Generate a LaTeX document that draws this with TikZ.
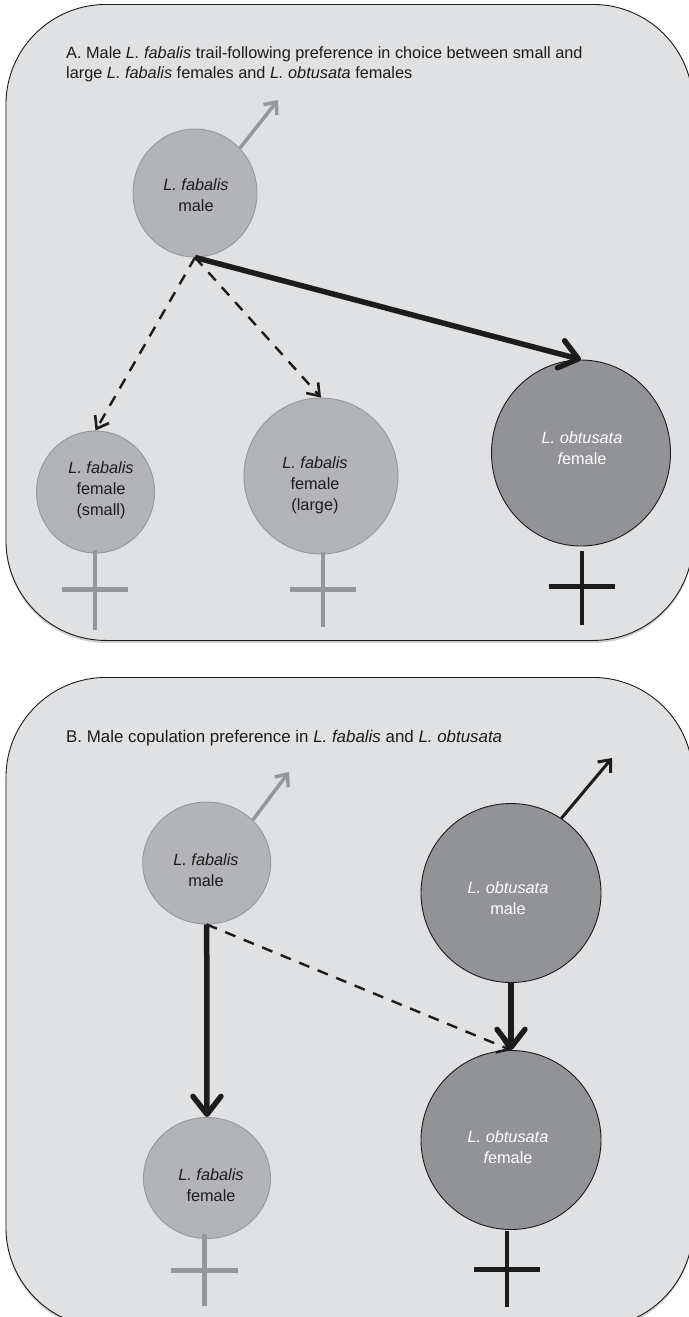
\documentclass[tikz,border=0pt]{standalone}
\usepackage{fontspec}
\setmainfont{Liberation Sans}
\usetikzlibrary{arrows.meta,shapes.geometric,shadows}
\definecolor{panelbg}{HTML}{E0E1E3}
\definecolor{lightfill}{HTML}{B3B4B7}
\definecolor{darkfill}{HTML}{929396}
\definecolor{lightline}{HTML}{969799}
\definecolor{darkline}{HTML}{1D1B1C}
\tikzset{
  panelbox/.style={draw=darkline,line width=0.9pt,fill=panelbg,rounded corners=100pt,rectangle,
     minimum width=687pt,anchor=north west,inner sep=0pt,
     drop shadow={shadow xshift=0pt,shadow yshift=-2.5pt,opacity=.3,fill=black!60}},
  lightcirc/.style={ellipse,draw=lightline,fill=lightfill,line width=0.9pt,inner sep=0pt},
  darkcirc/.style={ellipse,draw=darkline,fill=darkfill,line width=0.9pt,inner sep=0pt},
  lbl/.style={font=\fontsize{16.3pt}{21pt}\selectfont,text=darkline,align=center,inner sep=0pt},
  lblw/.style={font=\fontsize{16.3pt}{21pt}\selectfont,text=white,align=center,inner sep=0pt},
  head/.style={font=\fontsize{16.3pt}{20pt}\selectfont,text=darkline,align=left,anchor=north west,inner sep=0pt},
  headb/.style={font=\fontsize{16.9pt}{20pt}\selectfont,text=darkline,align=left,anchor=north west,inner sep=0pt},
  gray arrow/.style={draw=lightline,line width=3.5pt,-{Straight Barb[length=10pt,width=17pt,line width=3.4pt]}},
  black arrow/.style={draw=darkline,line width=3pt,-{Straight Barb[length=10pt,width=17pt,line width=3pt]}},
  dash arrow/.style={draw=darkline,line width=2.4pt,dash pattern=on 11pt off 9pt,-{Straight Barb[length=11pt,width=16pt,line width=2.6pt]}},
  thick arrow/.style={draw=darkline,line width=5.5pt,-{Straight Barb[round,length=18pt,width=28pt,line width=5.4pt]}},
  stem/.style={line width=4.5pt},
  bar/.style={line width=5pt},
}
\begin{document}
\begin{tikzpicture}[x=1pt,y=-1pt]
\useasboundingbox (0,0) rectangle (688,1317);
\fill[white] (0,0) rectangle (688,1317);
% panels
\node[panelbox,minimum height=636pt] (panelA) at (5.5,4) {};
\node[panelbox,minimum height=650pt] (panelB) at (5.5,677) {};
% panel headings
\node[head] (headA) at (66,46) {A. Male \textit{L. fabalis} trail-following preference in choice between small and\\large \textit{L. fabalis} females and \textit{L. obtusata} females};
\node[headb] (headB) at (66,730) {B. Male copulation preference in \textit{L. fabalis} and \textit{L. obtusata}};
% organisms, panel A
\node[lightcirc,minimum width=124pt,minimum height=128pt] (maleA) at (195,193) {};
\node[lightcirc,minimum width=118pt,minimum height=122pt] (smallF) at (95.5,492) {};
\node[lightcirc,minimum width=154pt,minimum height=156pt] (largeF) at (321,476) {};
\node[darkcirc,minimum width=179pt,minimum height=186pt] (obtF) at (581,453) {};
\node[lbl] (maleAt) at (196,195) {\textit{L. fabalis}\\male};
\node[lbl] (smallFt) at (101,490) {\textit{L. fabalis}\\female\\(small)};
\node[lbl] (largeFt) at (315,485) {\textit{L. fabalis}\\female\\(large)};
\node[lblw] (obtFt) at (582,448) {\textit{L. obtusata}\\{\itshape f}emale};
% organisms, panel B
\node[lightcirc,minimum width=128pt,minimum height=122pt] (maleB) at (206.7,863) {};
\node[lightcirc,minimum width=127pt,minimum height=121pt] (fabB) at (207,1178) {};
\node[darkcirc,minimum width=180pt,minimum height=179pt] (obtM) at (511,893) {};
\node[darkcirc,minimum width=180pt,minimum height=179pt] (obtFB) at (511,1140) {};
\node[lbl] (maleBt) at (206,870) {\textit{L. fabalis}\\male};
\node[lbl] (fabBt) at (211,1185) {\textit{L. fabalis}\\female};
\node[lblw] (obtMt) at (508,898) {\textit{L. obtusata}\\male};
\node[lblw] (obtFBt) at (508,1147) {\textit{L. obtusata}\\{\itshape f}emale};
% free ends
\coordinate (maleAtip) at (278,100);
\coordinate (maleBtip) at (289,772);
\coordinate (obtMtip) at (612,758);
\coordinate (sA1t) at (95,550); \coordinate (sA1b) at (95,630);
\coordinate (bA1l) at (62,589); \coordinate (bA1r) at (128,589);
\coordinate (sA2t) at (323,552); \coordinate (sA2b) at (323,627);
\coordinate (bA2l) at (290,589); \coordinate (bA2r) at (356,589);
\coordinate (sA3t) at (582,551); \coordinate (sA3b) at (582,625);
\coordinate (bA3l) at (549,586); \coordinate (bA3r) at (615,586);
\coordinate (sB1t) at (204.3,1234); \coordinate (sB1b) at (204.3,1306);
\coordinate (bB1l) at (171,1270); \coordinate (bB1r) at (238,1270);
\coordinate (sB2t) at (507,1231); \coordinate (sB2b) at (507,1307);
\coordinate (bB2l) at (474,1269); \coordinate (bB2r) at (540,1269);
% male symbols
\draw[gray arrow] (maleA.45) -- (maleAtip);
\draw[gray arrow] (maleB.43) -- (maleBtip);
\draw[black arrow] (obtM.56) -- (obtMtip);
% preference arrows, panel A
\draw[dash arrow] (maleA.south) -- (smallF.north);
\draw[dash arrow] (maleA.south) -- (largeF.north);
\draw[thick arrow] (maleA.south) -- (obtF.north);
% preference arrows, panel B
\draw[dash arrow] (maleB.south) -- (obtFB.north);
\draw[thick arrow] (maleB.south) -- (fabB.north);
\draw[thick arrow] (obtM.south) -- (obtFB.north);
% female symbols
\draw[lightline,stem] (sA1t) -- (sA1b); \draw[lightline,bar] (bA1l) -- (bA1r);
\draw[lightline,stem] (sA2t) -- (sA2b); \draw[lightline,bar] (bA2l) -- (bA2r);
\draw[darkline,stem] (sA3t) -- (sA3b); \draw[darkline,bar] (bA3l) -- (bA3r);
\draw[lightline,stem] (sB1t) -- (sB1b); \draw[lightline,bar] (bB1l) -- (bB1r);
\draw[darkline,stem] (sB2t) -- (sB2b); \draw[darkline,bar] (bB2l) -- (bB2r);
\end{tikzpicture}
\end{document}
